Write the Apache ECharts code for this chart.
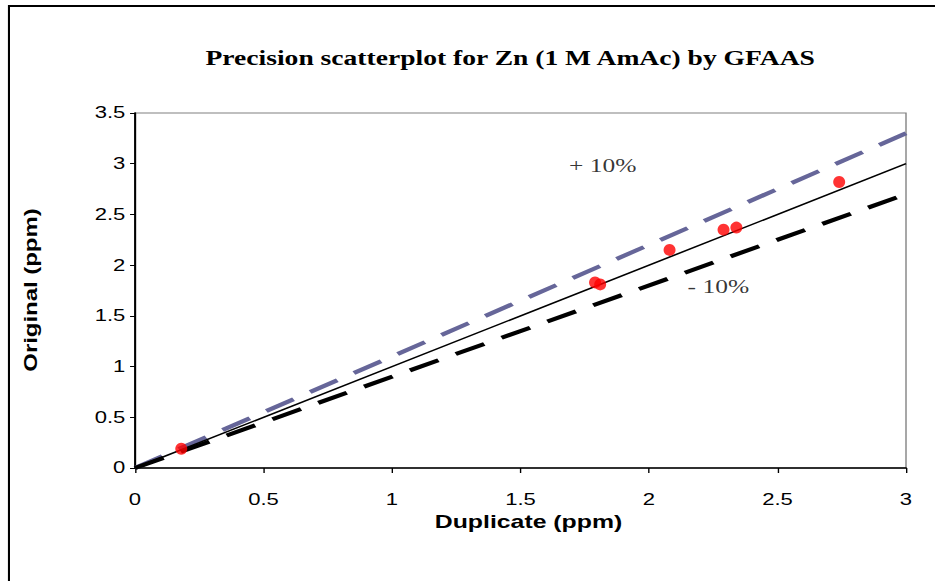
<!DOCTYPE html>
<html>
<head>
<meta charset="utf-8">
<script src="https://cdn.jsdelivr.net/npm/echarts@6/dist/echarts.min.js"></script>
<style>
  html, body { margin: 0; padding: 0; background: #fff; overflow: hidden; }
  /* The chart is laid out on a narrower surface and widened to the page,
     which gives the broad, stretched lettering of the original figure. */
  #chart { width: 678px; height: 581px; transform: scaleX(1.379); transform-origin: 0 0; }
</style>
</head>
<body>
<div id="chart"></div>
<script>
// Duplicate vs original Zn determinations (ppm)
const duplicate = [0.18, 1.79, 1.81, 2.08, 2.29, 2.34, 2.74];
const original  = [0.19, 1.83, 1.81, 2.15, 2.35, 2.37, 2.82];

// Reference lines: 1:1 and the +/-10 % envelope
const oneToOne = [[0, 0], [3, 3]];
const plus10   = [[0, 0], [3, 3.3]];
const minus10  = [[0, 0], [3, 2.7]];

// Envelope labels, placed in data units
const bandLabels = [
  { text: '+ 10%', at: [1.82, 2.98] },
  { text: '- 10%', at: [2.27, 1.79] }
];

const xTicks = ['0', '0.5', '1', '1.5', '2', '2.5', '3'];
const yTicks = ['0', '0.5', '1', '1.5', '2', '2.5', '3', '3.5'];

const STRETCH = 1.379;   // horizontal widening applied by CSS
const chart = echarts.init(document.getElementById('chart'), null, { renderer: 'svg' });

const sans = 'Liberation Sans, Arial, sans-serif';
const serif = 'Liberation Serif, Times New Roman, serif';

chart.setOption({
  backgroundColor: '#ffffff',
  animation: false,
  title: {
    text: 'Precision scatterplot for Zn (1 M AmAc) by GFAAS',
    left: 365,
    textAlign: 'center',
    top: 43,
    textStyle: { fontFamily: serif, fontWeight: 'bold', fontSize: 20, color: '#000' }
  },
  graphic: [
    { type: 'line', shape: { x1: 6.5, y1: 6, x2: 700, y2: 6 },
      style: { stroke: '#000', lineWidth: 2 }, silent: true },
    { type: 'line', shape: { x1: 6.5, y1: 5, x2: 6.5, y2: 600 },
      style: { stroke: '#000', lineWidth: 1.5 }, silent: true },
    // Vertical axis title, rotated; scaled so its lettering keeps the
    // same proportions as the horizontal texts once the page is widened
    { type: 'text', x: 22.5, y: 290, rotation: Math.PI / 2,
      scaleX: 1.33, scaleY: 1 / STRETCH, silent: true,
      style: { text: 'Original (ppm)', fontFamily: sans, fontWeight: 'bold', fontSize: 18,
               fill: '#000', align: 'center', verticalAlign: 'middle' } }
  ],
  grid: {
    left: 97.9, right: 21, top: 113, bottom: 113,
    show: true, borderColor: '#808080', borderWidth: 1, backgroundColor: 'transparent'
  },
  xAxis: {
    type: 'value', min: 0, max: 3, interval: 0.5,
    name: 'Duplicate (ppm)', nameLocation: 'middle', nameGap: 45,
    nameTextStyle: { fontFamily: sans, fontWeight: 'bold', fontSize: 18, color: '#000',
                     padding: [0, 0, 0, 11.6] },
    axisLine: { show: true, lineStyle: { color: '#000', width: 1.5 } },
    axisTick: { show: true, inside: false, length: 5, lineStyle: { color: '#000', width: 1 } },
    axisLabel: {
      margin: 24, fontFamily: sans, fontSize: 16, color: '#000',
      formatter: v => xTicks[Math.round(v / 0.5)]
    },
    splitLine: { show: false }
  },
  yAxis: {
    type: 'value', min: 0, max: 3.5, interval: 0.5,
    axisLine: { show: true, lineStyle: { color: '#000', width: 1.5 } },
    axisTick: { show: true, inside: false, length: 3.6, lineStyle: { color: '#000', width: 1 } },
    axisLabel: {
      margin: 7, fontFamily: sans, fontSize: 16, color: '#000',
      formatter: v => yTicks[Math.round(v / 0.5)]
    },
    splitLine: { show: false }
  },
  series: [
    {
      name: '+10%', type: 'line', data: plus10, showSymbol: false, z: 2,
      lineStyle: { color: '#666699', width: 4, type: [23, 14] }
    },
    {
      name: '-10%', type: 'line', data: minus10, showSymbol: false, z: 2,
      lineStyle: { color: '#000', width: 4, type: [23, 14] }
    },
    {
      name: '1:1', type: 'line', data: oneToOne, showSymbol: false, z: 3,
      lineStyle: { color: '#000', width: 1.5 }
    },
    {
      name: 'Samples', type: 'scatter', z: 4,
      data: duplicate.map((d, i) => [d, original[i]]),
      symbol: 'circle', symbolSize: [12 / STRETCH, 12],
      itemStyle: { color: '#ff0000' }
    },
    {
      name: 'Envelope labels', type: 'scatter', z: 5, silent: true,
      data: bandLabels.map(b => ({ value: b.at, label: { formatter: b.text } })),
      symbolSize: 0,
      label: {
        show: true, position: 'inside',
        fontFamily: serif, fontSize: 18.5, color: '#000'
      }
    }
  ]
});
</script>
</body>
</html>
